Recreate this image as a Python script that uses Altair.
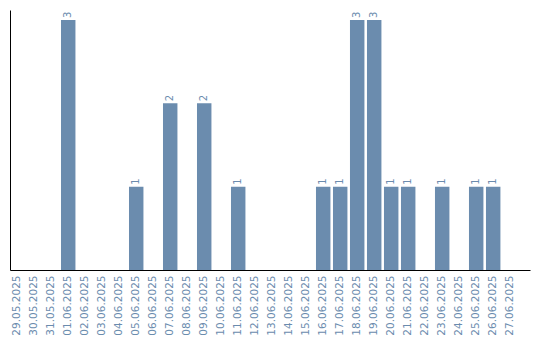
import altair as alt
import pandas as pd

dates = ["29.05.2025", "30.05.2025", "31.05.2025", "01.06.2025", "02.06.2025",
         "03.06.2025", "04.06.2025", "05.06.2025", "06.06.2025", "07.06.2025",
         "08.06.2025", "09.06.2025", "10.06.2025", "11.06.2025", "12.06.2025",
         "13.06.2025", "14.06.2025", "15.06.2025", "16.06.2025", "17.06.2025",
         "18.06.2025", "19.06.2025", "20.06.2025", "21.06.2025", "22.06.2025",
         "23.06.2025", "24.06.2025", "25.06.2025", "26.06.2025", "27.06.2025"]
counts = [0, 0, 0, 3, 0,
          0, 0, 1, 0, 2,
          0, 2, 0, 1, 0,
          0, 0, 0, 1, 1,
          3, 3, 1, 1, 0,
          1, 0, 1, 1, 0]

df = pd.DataFrame({"date": dates, "count": counts})

BAR = "#6b8cae"
TXT = "#6b8cae"
FONT = "DejaVu Sans"

x = alt.X("date:N", sort=dates,
          scale=alt.Scale(paddingInner=0.15, paddingOuter=0.37, align=0),
          axis=alt.Axis(title=None, labelAngle=270, labelAlign="right", labelBaseline="middle",
                        ticks=False, labelPadding=5, labelColor=TXT, labelFont=FONT,
                        labelFontSize=10.5, domainColor="black", domainWidth=1, grid=False))
y = alt.Y("count:Q", scale=alt.Scale(domain=[0, 3.12], nice=False),
          axis=alt.Axis(title=None, labels=False, ticks=False, grid=False,
                        domainColor="black", domainWidth=1))

bars = alt.Chart(df).mark_bar(color=BAR).encode(x=x, y=y)
labels = alt.Chart(df).transform_filter("datum.count > 0").mark_text(
    angle=270, align="left", baseline="middle", dx=2, color=TXT, font=FONT, fontSize=10
).encode(x=x, y=y, text="count:Q")

chart = (bars + labels).properties(
    width=520, height=260,
    autosize=alt.AutoSizeParams(type="none"),
    padding={"left": 10, "top": 10, "right": 10, "bottom": 70},
).configure_view(stroke=None)

chart.save("out.html", embed_options={"renderer": "svg", "actions": False})
